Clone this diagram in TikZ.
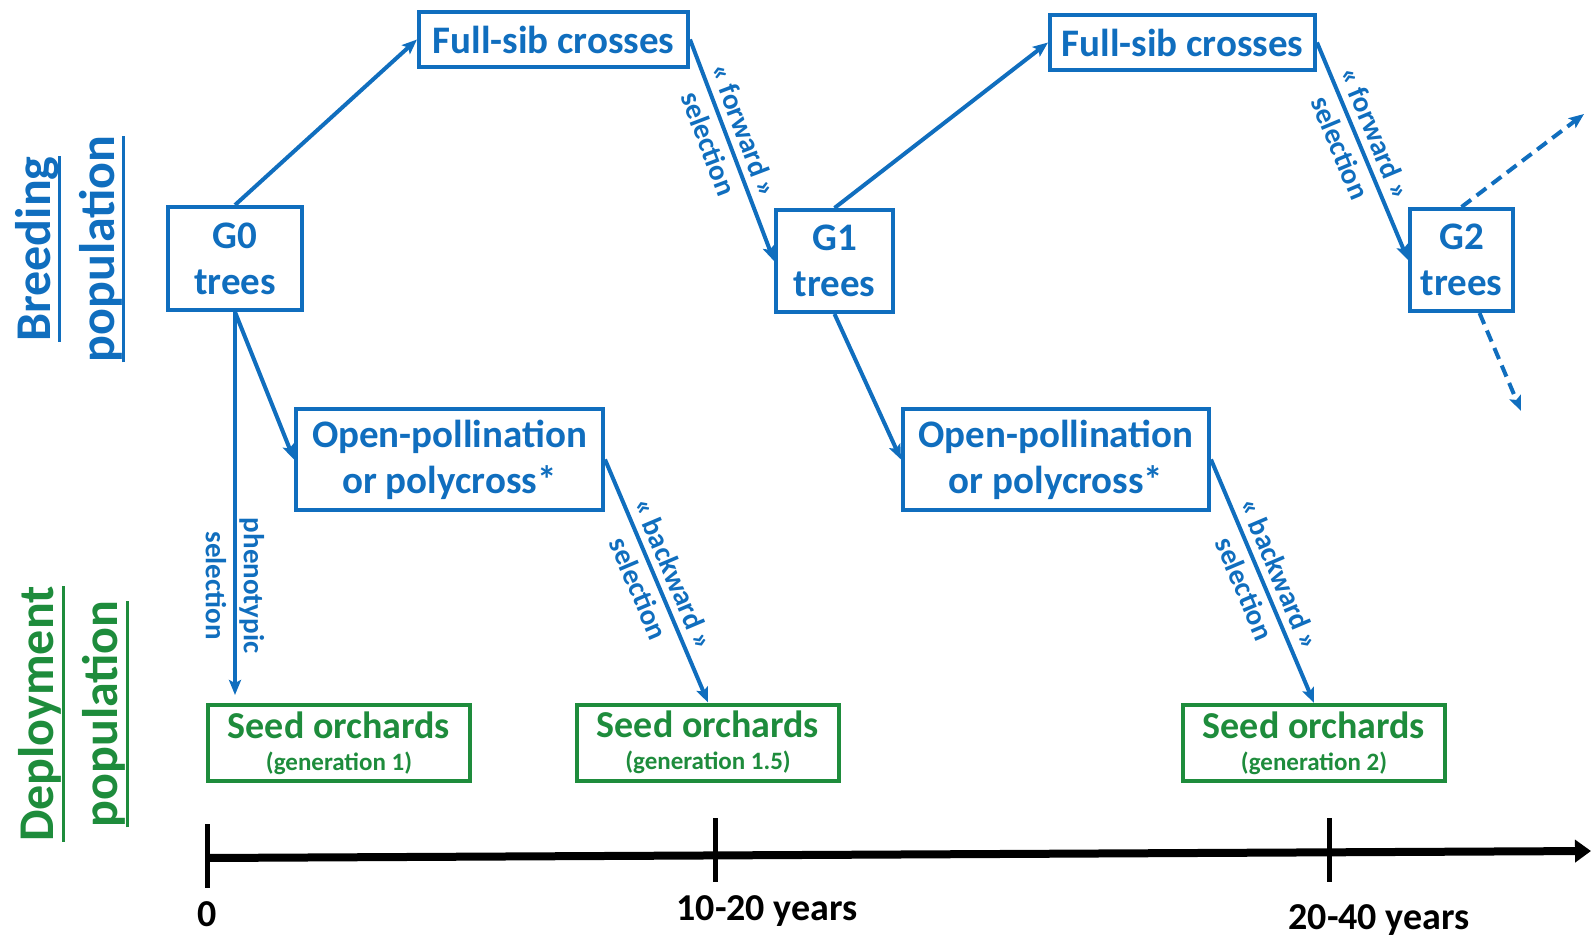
\documentclass[tikz,border=0pt]{standalone}
\usepackage{fontspec}
\setmainfont{Carlito}
\usetikzlibrary{arrows.meta}
\definecolor{bblue}{RGB}{16,110,190}
\definecolor{dgreen}{RGB}{30,140,60}
\newcommand\myul[1]{\setbox0=\hbox{#1}\rlap{\rule[-11pt]{\wd0}{3pt}}\box0}
\begin{document}
\begin{tikzpicture}[x=1pt,y=-1pt,
  bbox/.style={draw=bblue, line width=4pt, text=bblue, font=\bfseries\fontsize{39}{46}\selectfont, align=center, inner sep=0pt, rectangle},
  gbox/.style={draw=dgreen, line width=4pt, text=dgreen, font=\bfseries\fontsize{38}{40}\selectfont, align=center, inner sep=0pt, rectangle, minimum width=262pt, minimum height=76pt},
  arr/.style={draw=bblue, line width=4pt, -{Stealth[length=15pt,width=12pt,inset=3pt]}},
  darr/.style={arr, dash pattern=on 12pt off 7pt},
  lab/.style={text=bblue, font=\bfseries\fontsize{29}{38}\selectfont, align=center, inner sep=0pt},
  side/.style={font=\bfseries\fontsize{50}{64}\selectfont, align=center, inner sep=0pt, rotate=90},
  tlab/.style={font=\bfseries\fontsize{38}{40}\selectfont, text=black, inner sep=0pt}
]
\useasboundingbox (0,0) rectangle (1592,939);

% side labels
\node[side, text=bblue] (breed) at (70,249) {\myul{Breeding}\\\myul{population}};
\node[side, text=dgreen] (deploy) at (73.5,714) {\myul{Deployment}\\\myul{population}};

% breeding boxes
\node[bbox, minimum width=134pt, minimum height=103pt] (G0) at (235,258.5) {G0\\trees};
\node[bbox, minimum width=269pt, minimum height=55pt] (FS1) at (553.5,39.5) {Full-sib crosses};
\node[bbox, minimum width=117pt, minimum height=102pt] (G1) at (834.5,261) {G1\\trees};
\node[bbox, minimum width=265pt, minimum height=55pt] (FS2) at (1182.5,42.5) {Full-sib crosses};
\node[bbox, minimum width=103pt, minimum height=102pt] (G2) at (1461.5,260) {G2\\trees};
\node[bbox, minimum width=307pt, minimum height=101pt] (OP1) at (449.5,459.5) {Open-pollination\\or polycross*};
\node[bbox, minimum width=306pt, minimum height=101pt] (OP2) at (1056,459.5) {Open-pollination\\or polycross*};

% deployment boxes
\node[gbox] (SO1) at (339,743) {Seed orchards\\[-8pt]{\fontsize{25}{30}\selectfont (generation 1)}};
\node[gbox] (SO15) at (708,742.5) {Seed orchards\\[-8pt]{\fontsize{25}{30}\selectfont (generation 1.5)}};
\node[gbox] (SO2) at (1314,743) {Seed orchards\\[-8pt]{\fontsize{25}{30}\selectfont (generation 2)}};

% connectors
\draw[arr] (G0.north) -- (FS1.west);
\draw[arr] (FS1.east) -- node[lab, pos=0.44, sloped] {«~forward~»\\selection} (G1.west);
\draw[arr] (G1.north) -- (FS2.west);
\draw[arr] (FS2.east) -- node[lab, pos=0.45, sloped] {«~forward~»\\selection} (G2.west);
\coordinate (up) at (1584,114);
\coordinate (down) at (1521,411);
\draw[darr] (G2.north) -- (up);
\draw[darr] ([xshift=18pt]G2.south) -- (down);

\draw[arr, shorten >=8pt] (G0.south) -- node[lab, pos=0.70, rotate=-90] {phenotypic\\selection} (G0.south |- SO1.north);
\draw[arr] (G0.south) -- (OP1.west);
\draw[arr] (OP1.east) -- node[lab, midway, sloped] {«~backward~»\\selection} (SO15.north);
\draw[arr] (G1.south) -- (OP2.west);
\draw[arr] (OP2.east) -- node[lab, midway, sloped] {«~backward~»\\selection} (SO2.north);

% timeline
\coordinate (t0) at (207,858);
\coordinate (tend) at (1591,851);
\draw[line width=8pt, -{Triangle[length=16pt,width=22pt]}] (t0) -- (tend);
\draw[line width=5pt] (207,824) -- (207,888);
\draw[line width=5pt] (715,818) -- (715,882);
\draw[line width=5pt] (1329,818) -- (1329,882);
\node[tlab] (l0) at (207,914) {0};
\node[tlab] (l1) at (767,911) {10-20 years};
\node[tlab] (l2) at (1379,920) {20-40 years};
\end{tikzpicture}
\end{document}
